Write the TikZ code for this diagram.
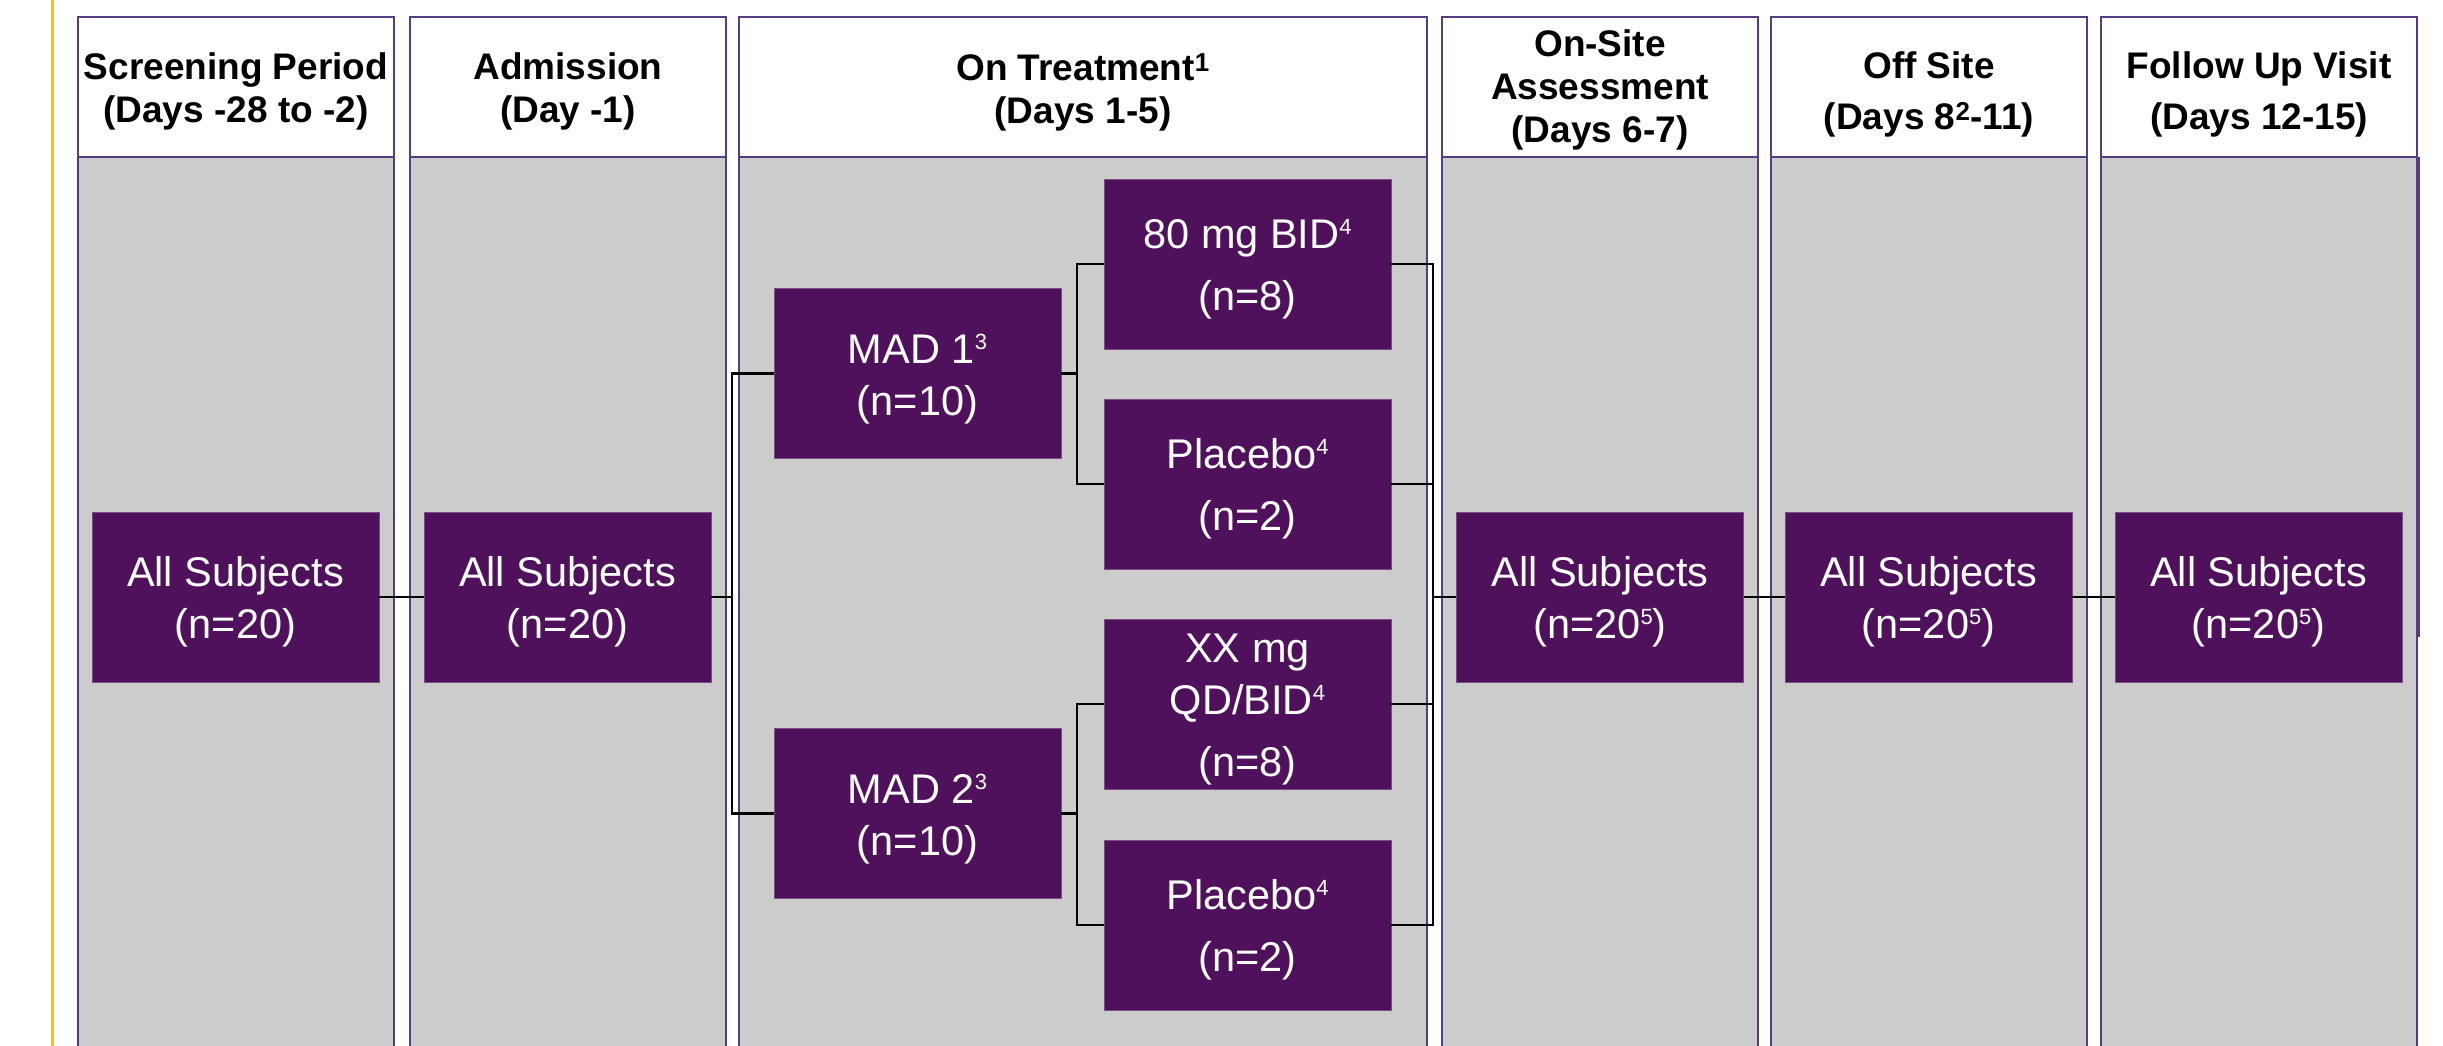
\documentclass[tikz,border=0pt]{standalone}
\usepackage{fontspec}
\setmainfont{Liberation Sans}
\definecolor{boxpurple}{RGB}{79,17,92}
\definecolor{colline}{RGB}{88,60,130}
\definecolor{bodygray}{RGB}{204,204,204}
\definecolor{goldline}{RGB}{255,192,0}
\newcommand\bsup[1]{\raisebox{14pt}{\fontsize{22}{22}\selectfont #1}}
\newcommand\bstrut{\rule{0pt}{40pt}}
\tikzset{
  colrect/.style={draw=colline, line width=2.2pt},
  hdrtext/.style={font=\fontsize{37}{43}\selectfont\bfseries, align=center, text=black, inner sep=0pt},
  hdrwide/.style={hdrtext, font=\fontsize{37}{51}\selectfont\bfseries},
  armbox/.style={fill=boxpurple, draw=boxpurple!75!white, line width=0.8pt, minimum width=287pt, minimum height=170pt, inner sep=0pt, text=white, align=center, font=\fontsize{41.5}{52}\selectfont},
  conn/.style={draw=black, line width=2.4pt},
}
\begin{document}
\begin{tikzpicture}[x=1pt,y=-1pt]
\clip (0,0) rectangle (2443,1046);
\fill[white] (0,0) rectangle (2443,1046);
\draw[goldline, line width=3pt] (52,0) -- (52,1046);
% columns
\foreach \l/\r in {78/394, 410/726, 739/1427, 1442/1758, 1771/2087, 2101/2417} {
  \filldraw[colrect, fill=bodygray] (\l,157) rectangle (\r,1070);
  \filldraw[colrect, fill=white] (\l,17) rectangle (\r,157);
}
\draw[colline, line width=2.2pt] (2419,157) -- (2419,637);
% headers
\node[hdrtext] (h1) at (236,91) {Screening Period\\(Days -28 to -2)};
\node[hdrtext] (h2) at (568,91) {Admission\\(Day -1)};
\node[hdrtext] (h3) at (1083,92) {On Treatment\textsuperscript{1}\\(Days 1-5)};
\node[hdrtext] (h4) at (1600,90) {On-Site\\Assessment\\(Days 6-7)};
\node[hdrwide] (h5) at (1929,94) {Off Site\\(Days 8\textsuperscript{2}-11)};
\node[hdrwide] (h6) at (2259,94) {Follow Up Visit\\(Days 12-15)};
% boxes
\node[armbox] (as1) at (235.5,597) {\bstrut All Subjects\\(n=20)};
\node[armbox] (as2) at (567.5,597) {\bstrut All Subjects\\(n=20)};
\node[armbox] (mad1) at (917.5,373.5) {\bstrut MAD 1\bsup{3}\\(n=10)};
\node[armbox] (m80) at (1247.5,264) {\bstrut 80 mg BID\bsup{4}\\[10pt](n=8)};
\node[armbox] (p1) at (1247.5,484) {\bstrut Placebo\bsup{4}\\[10pt](n=2)};
\node[armbox] (xx) at (1247.5,704) {\bstrut XX mg\\QD/BID\bsup{4}\\[10pt](n=8)};
\node[armbox] (mad2) at (917.5,813.5) {\bstrut MAD 2\bsup{3}\\(n=10)};
\node[armbox] (p2) at (1247.5,925) {\bstrut Placebo\bsup{4}\\[10pt](n=2)};
\node[armbox] (as4) at (1600,597) {\bstrut All Subjects\\(n=20\bsup{5})};
\node[armbox] (as5) at (1928.5,597) {\bstrut All Subjects\\(n=20\bsup{5})};
\node[armbox] (as6) at (2258.5,597) {\bstrut All Subjects\\(n=20\bsup{5})};
% bracket coordinates
\coordinate (lb) at (732,0);
\coordinate (s1) at (1077,0);
\coordinate (rb) at (1433,0);
% connectors
\draw[conn] (as1.east) -- (as2.west);
\draw[conn] (as2.east) -- (as2.east -| lb);
\draw[conn] (mad1.west) -- (mad1.west -| lb) -- (mad2.west -| lb) -- (mad2.west);
\draw[conn] (mad1.east) -- (mad1.east -| s1);
\draw[conn] (m80.west) -- (m80.west -| s1) -- (p1.west -| s1) -- (p1.west);
\draw[conn] (mad2.east) -- (mad2.east -| s1);
\draw[conn] (xx.west) -- (xx.west -| s1) -- (p2.west -| s1) -- (p2.west);
\draw[conn] (m80.east) -- (m80.east -| rb) -- (p2.east -| rb) -- (p2.east);
\draw[conn] (p1.east) -- (p1.east -| rb);
\draw[conn] (xx.east) -- (xx.east -| rb);
\draw[conn] (as4.west) -- (as4.west -| rb);
\draw[conn] (as4.east) -- (as5.west);
\draw[conn] (as5.east) -- (as6.west);
\end{tikzpicture}
\end{document}
